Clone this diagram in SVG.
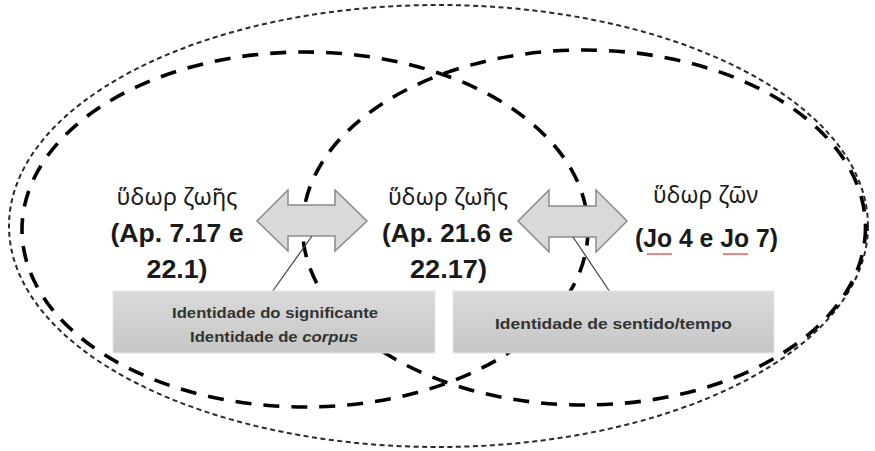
<svg xmlns="http://www.w3.org/2000/svg" width="875" height="451" viewBox="0 0 875 451">
<defs>
<linearGradient id="boxGrad" x1="0" y1="0" x2="0" y2="1">
<stop offset="0" stop-color="#dadada"/>
<stop offset="1" stop-color="#c6c6c6"/>
</linearGradient>
<style>
.outer{fill:none;stroke:#2a2a2a;stroke-width:2;stroke-dasharray:5 3.5}
.dash{fill:none;stroke:#000;stroke-width:3.6;stroke-dasharray:16 12}
.arrow{fill:#d9d9d9;stroke:#8a8a8a;stroke-width:1.5;stroke-linejoin:miter}
.box{fill:url(#boxGrad);stroke:#e6e6e6;stroke-width:1}
.conn{stroke:#404040;stroke-width:1.2;fill:none}
.greek{font-family:"Noto Sans","DejaVu Sans",sans-serif;font-size:23px;fill:#1a1a1a;text-anchor:middle}
.ref{font-family:"Liberation Sans",Arial,sans-serif;font-weight:bold;font-size:26px;fill:#1a1a1a;text-anchor:middle}
.boxtxt{font-family:"Liberation Sans",Arial,sans-serif;font-weight:bold;font-size:15px;fill:#333;text-anchor:middle}
.spell{stroke:#e06060;stroke-width:1.5;fill:none}
</style>
</defs>
<g id="background-ellipses">
<ellipse class="outer" cx="438.5" cy="226" rx="429.5" ry="221"/>
<ellipse class="dash" cx="305" cy="229.5" rx="283" ry="177.5"/>
<ellipse class="dash" cx="584" cy="227.5" rx="281.5" ry="177.5"/>
</g>
<g id="node-left">
<text class="greek" x="177" y="205" textLength="121" lengthAdjust="spacingAndGlyphs">ὕδωρ ζωῆς</text>
<text class="ref" x="177" y="242" textLength="133" lengthAdjust="spacingAndGlyphs">(Ap. 7.17 e</text>
<text class="ref" x="177" y="278" textLength="61" lengthAdjust="spacingAndGlyphs">22.1)</text>
</g>
<g id="node-middle">
<text class="greek" x="448" y="205" textLength="120" lengthAdjust="spacingAndGlyphs">ὕδωρ ζωῆς</text>
<text class="ref" x="447.5" y="242" textLength="131" lengthAdjust="spacingAndGlyphs">(Ap. 21.6 e</text>
<text class="ref" x="448.5" y="278" textLength="77" lengthAdjust="spacingAndGlyphs">22.17)</text>
</g>
<g id="node-right">
<text class="greek" x="705.5" y="203" textLength="105" lengthAdjust="spacingAndGlyphs">ὕδωρ ζῶν</text>
<text class="ref" x="706.5" y="247" textLength="143" lengthAdjust="spacingAndGlyphs">(Jo 4 e Jo 7)</text>
<path class="spell" d="M647,254 H672 M723,254 H748"/>
</g>
<g id="connectors">
<path id="arrow-left" class="arrow" d="M257,221 L288,190 L288,205 L335,205 L335,190 L367,221 L335,251 L335,236 L288,236 L288,251 Z"/>
<path id="arrow-right" class="arrow" d="M518,221 L549,190 L549,206 L596,206 L596,190 L627,221 L596,252 L596,237 L549,237 L549,252 Z"/>
<line class="conn" x1="272" y1="292" x2="312" y2="236"/>
<line class="conn" x1="573" y1="237" x2="610" y2="292"/>
</g>
<g id="box-left">
<rect class="box" x="113" y="291" width="322" height="62"/>
<text class="boxtxt" x="275" y="318" textLength="206" lengthAdjust="spacingAndGlyphs">Identidade do significante</text>
<text class="boxtxt" x="274" y="342" textLength="168" lengthAdjust="spacingAndGlyphs">Identidade de <tspan font-style="italic">corpus</tspan></text>
</g>
<g id="box-right">
<rect class="box" x="453" y="291" width="321" height="62"/>
<text class="boxtxt" x="613.5" y="329" textLength="237" lengthAdjust="spacingAndGlyphs">Identidade de sentido/tempo</text>
</g>
</svg>
